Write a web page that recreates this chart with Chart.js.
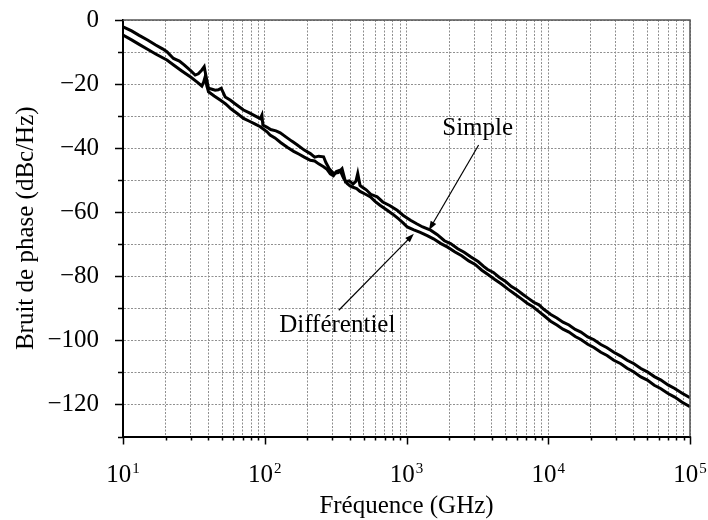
<!DOCTYPE html>
<html lang="fr">
<head>
<meta charset="utf-8">
<title>Bruit de phase</title>
<script src="https://cdn.jsdelivr.net/npm/chart.js@4.4.1/dist/chart.umd.min.js"></script>
<style>
  html, body { margin: 0; padding: 0; background: #fff; }
  #wrap { width: 708px; height: 520px; }
</style>
</head>
<body>
<div id="wrap"><canvas id="noiseChart" width="708" height="520"></canvas></div>
<script>
// Données (fréquence, bruit de phase en dBc/Hz)
const simpleFreq = [10, 11.5, 13, 15, 17, 19, 20.4, 22.7, 25, 27, 30, 32.3, 34, 36, 37.4, 38.5, 40.1, 42.5, 44.7, 47,
  49.3, 52.6, 57, 62, 70.8, 78, 86, 93, 95.5, 97, 104, 110, 120, 128.6, 140, 155, 170, 190, 209.7, 225,
  240, 260, 270, 285, 306, 330, 351, 371, 395, 420, 440, 453, 470, 486, 520, 560, 621, 680, 760, 859,
  950, 1067, 1180, 1300, 1479, 1650, 1850, 2046, 2300, 2550, 2850, 3200, 3500, 3715, 4100, 4500, 5000, 5500, 6000, 6600,
  7200, 7900, 8600, 9300, 10420, 11500, 12700, 14000, 15500, 17000, 19000, 21000, 23500, 26000, 29000, 32500, 36000, 40000, 45000, 50000,
  56000, 62000, 70000, 78000, 88000, 100000];
const simpleVal = [-2.1, -3.4, -4.8, -6.3, -7.8, -9.0, -9.9, -12.0, -12.8, -14.0, -15.8, -17.2, -16.8, -15.6, -14.6, -17.5, -21.3, -21.6, -21.9, -21.8,
  -21.3, -24.0, -25.0, -26.2, -28.1, -29.0, -30.0, -30.8, -29.7, -32.8, -33.5, -34.2, -34.6, -35.2, -36.4, -37.8, -39.0, -40.6, -41.7, -42.8,
  -42.5, -42.7, -44.5, -46.4, -47.9, -47.6, -46.4, -50.5, -50.2, -51.2, -50.3, -47.9, -51.6, -52.1, -53.0, -54.4, -55.2, -56.8, -57.9, -59.4,
  -61.0, -62.5, -63.6, -64.6, -65.6, -67.0, -68.9, -69.8, -71.4, -72.5, -74.0, -75.4, -76.9, -77.8, -78.8, -80.3, -81.6, -83.2, -84.2, -85.6,
  -86.8, -88.1, -88.9, -90.3, -91.9, -93.0, -94.3, -95.2, -96.6, -97.4, -98.9, -99.8, -101.3, -102.3, -103.7, -104.9, -106.2, -107.2, -108.8, -109.8,
  -111.3, -112.3, -113.9, -115.0, -116.5, -117.9];

const diffFreq = [10, 11.5, 13, 15, 17, 20.4, 23, 26, 30, 33.2, 36, 37, 38, 39, 40.1, 44, 48.5, 53, 58, 64,
  70.8, 78, 85, 93, 103.8, 109, 118, 130, 145, 160, 175, 190, 209.7, 225, 240, 260, 275, 290, 305, 320,
  335, 345, 360, 381, 400, 420, 445, 470, 510, 557, 600, 650, 731, 800, 880, 950, 1012, 1127, 1250, 1400,
  1550, 1750, 1950, 2200, 2450, 2750, 3050, 3400, 3800, 4200, 4700, 5200, 5800, 6400, 7100, 7800, 8600, 9400, 10400, 11500,
  12700, 14000, 15500, 17000, 19000, 21000, 23500, 26000, 29000, 32500, 36000, 40000, 45000, 50000, 56000, 62000, 70000, 78000, 88000, 100000];
const diffVal = [-4.7, -6.2, -7.6, -9.2, -10.6, -12.5, -14.2, -15.9, -17.8, -19.3, -20.6, -19.5, -17.7, -20.5, -22.4, -23.7, -25.0, -26.2, -27.8, -29.2,
  -30.7, -31.6, -32.4, -33.3, -34.9, -35.9, -36.8, -38.3, -39.8, -41.0, -41.9, -42.8, -43.8, -44.0, -44.9, -45.8, -46.6, -48.0, -48.6, -47.3,
  -47.0, -47.6, -49.4, -51.0, -51.8, -52.2, -52.6, -53.5, -54.3, -55.2, -56.6, -57.8, -59.4, -60.6, -62.1, -63.4, -64.6, -65.5, -66.3, -67.3,
  -68.3, -69.8, -70.9, -72.4, -73.6, -75.2, -76.3, -78.1, -79.6, -81.0, -82.5, -84.0, -85.5, -86.9, -88.4, -89.5, -91.0, -92.4, -94.0, -95.2,
  -96.5, -97.4, -98.8, -99.7, -101.2, -102.2, -103.7, -104.7, -106.2, -107.3, -108.7, -109.8, -111.4, -112.4, -114.0, -115.0, -116.6, -117.7, -119.3, -120.7];

// Graduations
const xDecades = [10, 100, 1000, 10000, 100000];
const xExponents = ['1', '2', '3', '4', '5'];
const yMin = -130;
const yMax = 0;
const yStep = 10;

const FONT = '"Liberation Serif", "Times New Roman", serif';

// ticks log : 1..9 x 10^n
const xTicks = [];
xDecades.forEach((d, i) => {
  if (i === xDecades.length - 1) { xTicks.push(d); return; }
  for (let m = 1; m <= 9; m++) xTicks.push(m * d);
});

const toPoints = (fs, vs) => fs.map((f, i) => ({x: f, y: vs[i]}));

// Annotations (coordonnées en unités des axes)
const notes = [
  {text: 'Simple', at: [3177, -33.7], from: [3228, -39.0], to: [1439, -65.6]},
  {text: 'Différentiel', at: [325, -95.3], from: [333, -90.6], to: [1127, -66.7]}
];

const decorations = {
  id: 'decorations',
  afterDraw(chart) {
    const {ctx, chartArea: a, scales: {x, y}} = chart;
    ctx.save();

    // cadre haut / droite
    ctx.strokeStyle = '#555';
    ctx.lineWidth = 1.5;
    ctx.beginPath();
    ctx.moveTo(a.left, a.top);
    ctx.lineTo(a.right, a.top);
    ctx.lineTo(a.right, a.bottom);
    ctx.stroke();

    // graduations
    ctx.strokeStyle = '#000';
    ctx.lineWidth = 1.5;
    ctx.beginPath();
    xTicks.forEach(v => {
      const px = Math.round(x.getPixelForValue(v)) + 0.5;
      const len = xDecades.includes(v) ? 8 : 4;
      ctx.moveTo(px, a.bottom);
      ctx.lineTo(px, a.bottom + len);
    });
    for (let v = yMin; v <= yMax; v += yStep) {
      const py = Math.round(y.getPixelForValue(v)) + 0.5;
      const len = v % 20 === 0 ? 8 : 5;
      ctx.moveTo(a.left, py);
      ctx.lineTo(a.left - len, py);
    }
    ctx.stroke();

    // étiquettes 10^n
    ctx.fillStyle = '#000';
    ctx.textBaseline = 'alphabetic';
    ctx.textAlign = 'left';
    xDecades.forEach((d, i) => {
      const px = x.getPixelForValue(d);
      ctx.font = '25px ' + FONT;
      const wBase = ctx.measureText('10').width;
      ctx.font = '15px ' + FONT;
      const wExp = ctx.measureText(xExponents[i]).width;
      const x0 = px - (wBase + wExp + 1) / 2;
      ctx.font = '25px ' + FONT;
      ctx.fillText('10', x0, a.bottom + 45.5);
      ctx.font = '15px ' + FONT;
      ctx.fillText(xExponents[i], x0 + wBase + 1, a.bottom + 36.5);
    });

    // annotations
    notes.forEach(n => {
      ctx.font = '25px ' + FONT;
      ctx.textAlign = 'center';
      ctx.textBaseline = 'middle';
      ctx.fillText(n.text, x.getPixelForValue(n.at[0]), y.getPixelForValue(n.at[1]));

      const x1 = x.getPixelForValue(n.from[0]), y1 = y.getPixelForValue(n.from[1]);
      const x2 = x.getPixelForValue(n.to[0]), y2 = y.getPixelForValue(n.to[1]);
      const ang = Math.atan2(y2 - y1, x2 - x1);
      const head = 9, half = 3.2;
      ctx.lineWidth = 1.2;
      ctx.beginPath();
      ctx.moveTo(x1, y1);
      ctx.lineTo(x2 - Math.cos(ang) * head * 0.8, y2 - Math.sin(ang) * head * 0.8);
      ctx.stroke();
      ctx.beginPath();
      ctx.moveTo(x2, y2);
      ctx.lineTo(x2 - Math.cos(ang) * head - Math.sin(ang) * half, y2 - Math.sin(ang) * head + Math.cos(ang) * half);
      ctx.lineTo(x2 - Math.cos(ang) * head + Math.sin(ang) * half, y2 - Math.sin(ang) * head - Math.cos(ang) * half);
      ctx.closePath();
      ctx.fill();
    });

    ctx.restore();
  }
};

const ctx = document.getElementById('noiseChart').getContext('2d');
const noiseChart = new Chart(ctx, {
  type: 'scatter',
  data: {
    datasets: [{
      label: 'Simple',
      data: toPoints(simpleFreq, simpleVal),
      showLine: true,
      borderColor: '#000',
      borderWidth: 3,
      pointRadius: 0,
      tension: 0
    }, {
      label: 'Différentiel',
      data: toPoints(diffFreq, diffVal),
      showLine: true,
      borderColor: '#000',
      borderWidth: 3,
      pointRadius: 0,
      tension: 0
    }]
  },
  options: {
    responsive: false,
    animation: false,
    layout: { padding: { top: 20, right: 18, left: 0, bottom: 0 } },
    plugins: {
      legend: { display: false },
      tooltip: { enabled: false }
    },
    scales: {
      x: {
        type: 'logarithmic',
        min: 10,
        max: 100000,
        afterBuildTicks: scale => { scale.ticks = xTicks.map(v => ({value: v})); },
        afterFit: scale => { scale.height = 83.5; scale.paddingLeft = 0; scale.paddingRight = 0; },
        ticks: { display: false, autoSkip: false },
        grid: { color: '#8f8f8f', lineWidth: 1, drawTicks: false },
        border: { color: '#000', width: 2, dash: [2, 1.5] },
        title: {
          display: true,
          text: 'Fréquence (GHz)',
          color: '#000',
          font: { family: FONT, size: 25, lineHeight: 1 },
          padding: { top: 0, bottom: 1 }
        }
      },
      y: {
        min: yMin,
        max: yMax,
        afterFit: scale => { scale.width = 123; scale.paddingTop = 0; scale.paddingBottom = 0; },
        ticks: {
          stepSize: yStep,
          autoSkip: false,
          padding: 24,
          color: '#000',
          font: { family: FONT, size: 25 },
          callback: v => (v === 0 ? '0' : (v % 20 === 0 ? '\u2212' + Math.abs(v) : ''))
        },
        grid: { color: '#8f8f8f', lineWidth: 1, drawTicks: false },
        border: { color: '#000', width: 2, dash: [2, 1.5] },
        title: {
          display: true,
          text: 'Bruit de phase (dBc/Hz)',
          color: '#000',
          font: { family: FONT, size: 25, lineHeight: 1 },
          padding: { top: 13.5, bottom: 0 }
        }
      }
    }
  },
  plugins: [decorations]
});
</script>
</body>
</html>
